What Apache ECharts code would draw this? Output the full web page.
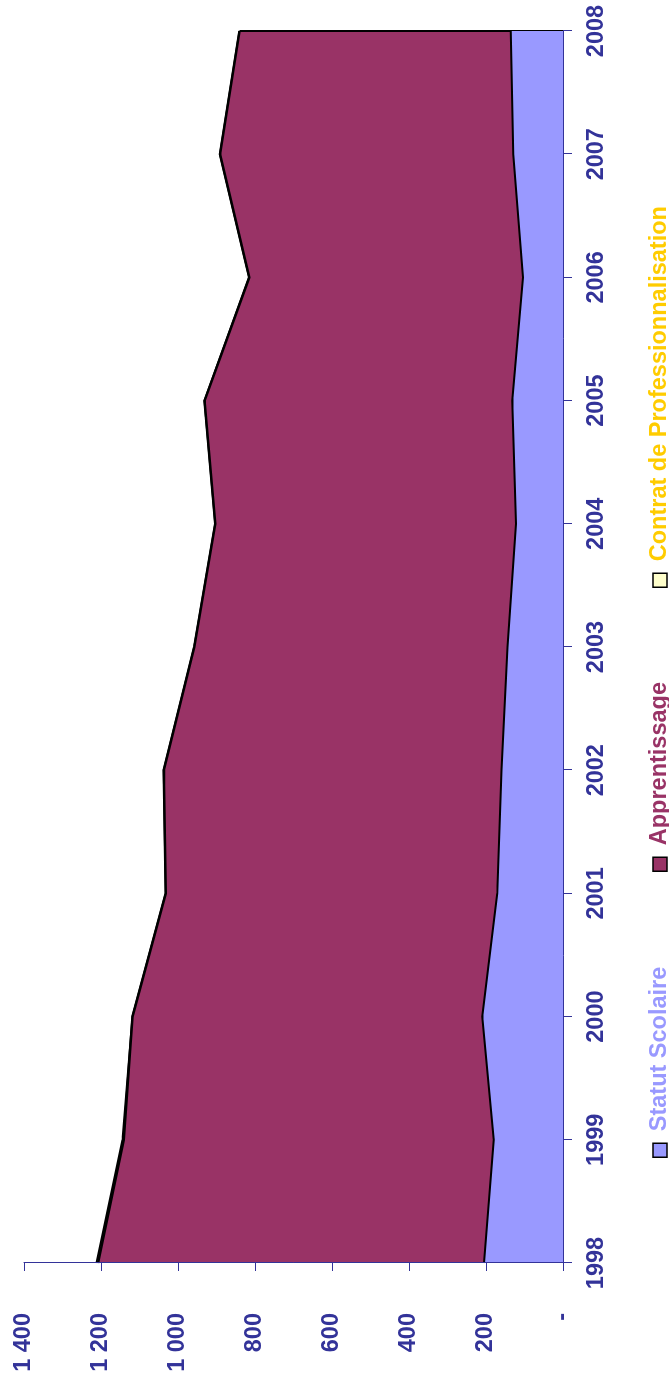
<!DOCTYPE html>
<html>
<head>
<meta charset="utf-8">
<script src="https://cdn.jsdelivr.net/npm/echarts@6/dist/echarts.min.js"></script>
<style>
  html, body { margin: 0; padding: 0; background: #ffffff; overflow: hidden; }
  #wrap { position: relative; width: 669px; height: 1384px; overflow: hidden; }
  #chart {
    position: absolute; left: 0; top: 0;
    width: 1384px; height: 669px;
    transform-origin: 0 0;
    transform: translate(0, 1384px) rotate(-90deg);
  }
</style>
</head>
<body>
<div id="wrap"><div id="chart"></div></div>
<script>
// ---- data ----
const years = ['1998', '1999', '2000', '2001', '2002', '2003', '2004', '2005', '2006', '2007', '2008'];
const statutScolaire = [205, 180, 210, 171, 160, 144, 122, 132, 104, 129, 136];
const apprentissage = [1003, 961, 908, 861, 877, 814, 781, 799, 711, 762, 704];
const contratPro = [4, 3, 0, 0, 0, 0, 0, 0, 0, 0, 0];
const valueTickLabels = ['-', '200', '400', '600', '800', '1 000', '1 200', '1 400'];
const seriesNames = ['Statut Scolaire', 'Apprentissage', 'Contrat de Professionnalisation'];

const AXIS = '#333399';
const FONT = "'Liberation Sans', Arial, sans-serif";
const FS = 23.5;
const fills = ['#9999FF', '#993366', '#FFFFCC'];
const legendText = ['#9999FF', '#993366', '#FFCC00'];
const legendLeft = [221, 507, 791];

const last = years.length - 1;
const total2008 = statutScolaire[last] + apprentissage[last] + contratPro[last];

const chart = echarts.init(document.getElementById('chart'), null, { renderer: 'canvas' });

const legends = seriesNames.map((n, i) => ({
  show: true,
  left: legendLeft[i],
  top: 643,
  orient: 'horizontal',
  icon: 'rect',
  itemWidth: 14,
  itemHeight: 14,
  selectedMode: false,
  itemStyle: { borderColor: '#000000', borderWidth: 1.5 },
  textStyle: { fontFamily: FONT, fontSize: FS, fontWeight: 'bold', padding: [0, 0, 0, 7] },
  data: [{ name: n, itemStyle: { color: fills[i], borderColor: '#000', borderWidth: 1.5 }, textStyle: { color: legendText[i] } }]
}));

const dataSets = [statutScolaire, apprentissage, contratPro];
const lineWidths = [2, 2.5, 2];
const zOrder = [5, 4, 3];

const series = dataSets.map((d, i) => {
  const s = {
    name: seriesNames[i],
    type: 'line',
    stack: 'total',
    data: d,
    showSymbol: false,
    symbol: 'none',
    color: fills[i],
    itemStyle: { color: fills[i] },
    lineStyle: { color: '#000000', width: lineWidths[i] },
    areaStyle: { color: fills[i], opacity: 1 },
    z: zOrder[i],
    animation: false
  };
  if (i === 0) {
    s.markLine = {
      silent: true,
      symbol: ['none', 'none'],
      label: { show: false },
      lineStyle: { color: '#000000', width: 2, type: 'solid' },
      data: [[{ coord: [years[last], 0] }, { coord: [years[last], total2008] }]],
      animation: false
    };
  }
  return s;
});

chart.setOption({
  animation: false,
  backgroundColor: '#ffffff',
  legend: legends,
  grid: { left: 121, right: 31, top: 24, bottom: 106, containLabel: false },
  xAxis: {
    type: 'category',
    data: years,
    boundaryGap: false,
    z: 10,
    axisLine: { show: true, lineStyle: { color: AXIS, width: 1 } },
    axisTick: { show: true, inside: false, length: 9, lineStyle: { color: AXIS, width: 1 }, alignWithLabel: true },
    axisLabel: { color: AXIS, fontFamily: FONT, fontSize: FS, fontWeight: 'bold', margin: 22 },
    splitLine: { show: false }
  },
  yAxis: {
    type: 'value',
    min: 0,
    max: 1400,
    interval: 200,
    z: 10,
    axisLine: { show: true, lineStyle: { color: AXIS, width: 1 } },
    axisTick: { show: true, inside: false, length: 8, lineStyle: { color: AXIS, width: 1 } },
    axisLabel: {
      color: AXIS, fontFamily: FONT, fontSize: FS, fontWeight: 'bold', margin: 50,
      formatter: v => valueTickLabels[Math.round(v / 200)]
    },
    splitLine: { show: false }
  },
  series: series
});
</script>
</body>
</html>
